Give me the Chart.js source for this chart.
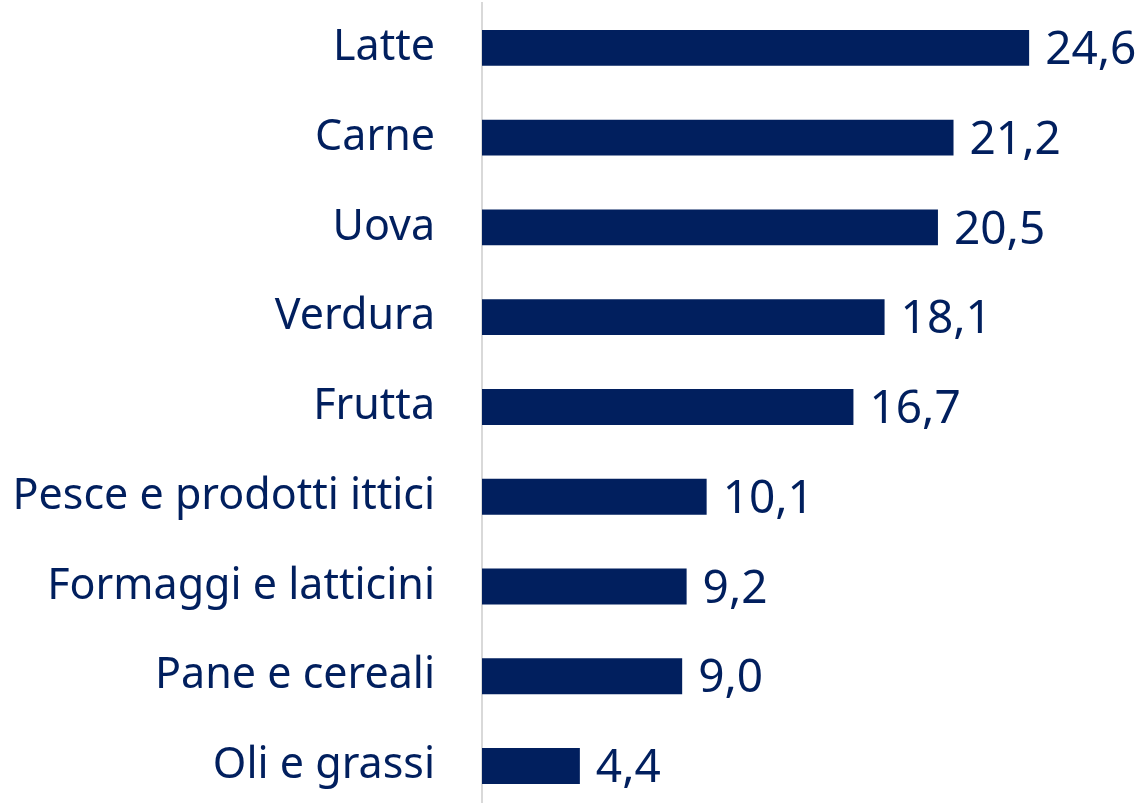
<!DOCTYPE html>
<html>
<head>
<meta charset="utf-8">
<script src="https://cdn.jsdelivr.net/npm/chart.js@4"></script>
<style>
    html, body { margin: 0; padding: 0; background: #fff; overflow: hidden; }
    canvas { display: block; }
</style>
</head>
<body>
<canvas id="chart" width="1144" height="813"></canvas>
<script>
const categories = ['Latte', 'Carne', 'Uova', 'Verdura', 'Frutta', 'Pesce e prodotti ittici', 'Formaggi e latticini', 'Pane e cereali', 'Oli e grassi'];
const values = [24.6, 21.2, 20.5, 18.1, 16.7, 10.1, 9.2, 9.0, 4.4];

const navy = '#011f5e';

// writes the value at the end of each bar, italian decimal comma
const valueLabels = {
    id: 'valueLabels',
    afterDatasetsDraw(chart) {
        const ctx = chart.ctx;
        const meta = chart.getDatasetMeta(0);
        ctx.save();
        ctx.fillStyle = navy;
        ctx.font = '46px "Noto Sans"';
        ctx.textAlign = 'left';
        ctx.textBaseline = 'middle';
        meta.data.forEach((bar, i) => {
            ctx.fillText(values[i].toFixed(1).replace('.', ','), bar.x + 16, bar.y + 3);
        });
        ctx.restore();
    }
};

new Chart(document.getElementById('chart'), {
    type: 'bar',
    data: {
        labels: categories,
        datasets: [{
            data: values,
            backgroundColor: navy,
            barPercentage: 0.8,
            categoryPercentage: 0.5
        }]
    },
    options: {
        indexAxis: 'y',
        responsive: false,
        animation: false,
        layout: {
            padding: { top: 3, right: 17, bottom: 0, left: 0 }
        },
        plugins: {
            legend: { display: false },
            tooltip: { enabled: false }
        },
        scales: {
            x: {
                display: false,
                min: 0,
                max: 29
            },
            y: {
                afterFit(scale) {
                    scale.width = 482;
                },
                // tick marks hidden, their length only sets the gap before the labels
                grid: { display: false, drawTicks: true, tickLength: 47 },
                border: { display: true, color: '#d9d9d9', width: 2 },
                ticks: {
                    color: navy,
                    padding: 0,
                    font: { family: 'Noto Sans', size: 43, lineHeight: 0.1 }
                }
            }
        }
    },
    plugins: [valueLabels]
});
</script>
</body>
</html>
